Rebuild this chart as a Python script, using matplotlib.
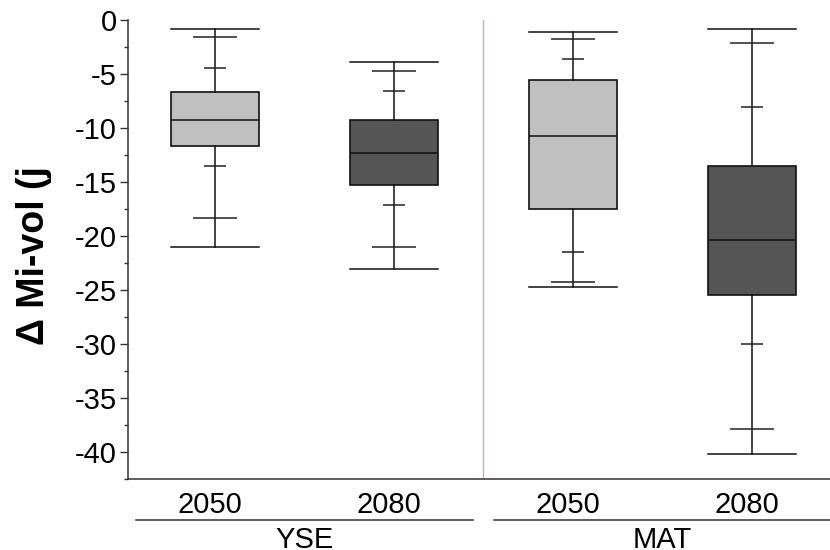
#!/usr/bin/python3
# -*- coding: utf-8 -*-

import numpy as np
import matplotlib
matplotlib.use('Agg')
import matplotlib.pyplot as plt
from matplotlib.ticker import MultipleLocator
import matplotlib.transforms as mtransforms

plt.rcParams['font.family'] = ['Liberation Sans', 'DejaVu Sans']

# data
groups = ['YSE', 'MAT']
years = ['2050', '2080', '2050', '2080']
colors = ['#c0c0c0', '#555555', '#c0c0c0', '#555555']

lo_cap = [-21.0, -23.1, -24.7, -40.2]     # bottom caps
p5 = [-18.3, -21.0, -24.3, -37.9]
p10 = [-13.5, -17.1, -21.45, -30.0]
q1 = [-11.7, -15.3, -17.5, -25.5]
med = [-9.3, -12.3, -10.7, -20.4]
q3 = [-6.7, -9.3, -5.6, -13.5]
p90 = [-4.45, -6.6, -3.6, -8.1]
p95 = [-1.6, -4.7, -1.8, -2.1]
hi_cap = [-0.8, -3.9, -1.1, -0.85]        # top caps


def draw():
    fig = plt.figure(figsize=(8.3, 5.5), dpi=100)
    ax = fig.add_axes([0.1542, 0.1291, 0.8458, 0.8345])

    pos = np.arange(1, len(years) + 1)
    w = 0.49
    stats = []
    for i in range(len(years)):
        stats.append(dict(med=med[i], q1=q1[i], q3=q3[i],
                          whislo=lo_cap[i], whishi=hi_cap[i], fliers=[]))
    bp = ax.bxp(stats, positions=pos, widths=w, capwidths=w,
                patch_artist=True, showfliers=False,
                boxprops=dict(linewidth=1.2, edgecolor='#111111'),
                medianprops=dict(color='#111111', linewidth=1.1),
                whiskerprops=dict(color='#111111', linewidth=1.1),
                capprops=dict(color='#111111', linewidth=1.1))
    for patch, c in zip(bp['boxes'], colors):
        patch.set_facecolor(c)

    # percentile marks on the whiskers
    ax.hlines(p5, pos - w / 4, pos + w / 4, color='#222222', lw=1.1)
    ax.hlines(p95, pos - w / 4, pos + w / 4, color='#222222', lw=1.1)
    ax.hlines(p10, pos - w / 8, pos + w / 8, color='#222222', lw=1.1)
    ax.hlines(p90, pos - w / 8, pos + w / 8, color='#222222', lw=1.1)

    # group divider
    ax.axvline(2.5, color='#d4acac', lw=1)

    ax.set_xlim(0.514, 4.436)
    ax.set_ylim(-42.5, 0)
    ax.yaxis.set_major_locator(MultipleLocator(5))
    ax.yaxis.set_minor_locator(MultipleLocator(2.5))
    ax.set_yticks(np.arange(-40, 1, 5))
    ax.set_yticklabels([str(v) for v in range(-40, 1, 5)])
    ax.tick_params(axis='y', which='major', length=6, width=1, pad=2,
                   labelsize=21, color='#333333')
    ax.tick_params(axis='y', which='minor', length=3, width=1,
                   color='#333333')
    ax.set_xticks(pos - 0.03)
    ax.set_xticklabels(years)
    ax.tick_params(axis='x', length=0, pad=9, labelsize=21)

    for s in ['top', 'right']:
        ax.spines[s].set_visible(False)
    for s in ['left', 'bottom']:
        ax.spines[s].set_color('#333333')
        ax.spines[s].set_linewidth(1.1)

    ax.set_ylabel('Δ Mi-vol (j', fontsize=27, fontweight='bold')
    ax.yaxis.set_label_coords(-0.108, 0.486)

    # group brackets under the year labels
    trans = mtransforms.blended_transform_factory(ax.transData, ax.transAxes)
    for k, g in enumerate(groups):
        c = 1.5 + 2 * k
        ax.plot([c - 0.94, c + 0.94], [-0.089, -0.089], color='#333333',
                lw=1.1, transform=trans, clip_on=False)
        ax.text(c, -0.134, g, transform=trans, ha='center', va='center',
                fontsize=21)

    fig.savefig('out.png', dpi=100)


def main():
    draw()


if __name__ == '__main__':
    main()
